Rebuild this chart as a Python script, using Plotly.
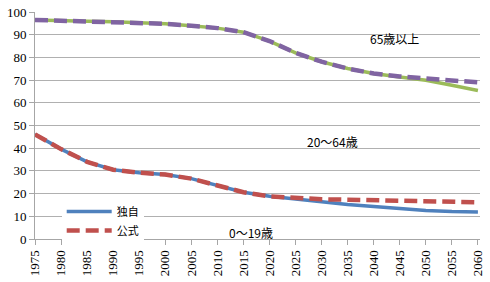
import plotly.graph_objects as go

years = [1975, 1980, 1985, 1990, 1995, 2000, 2005, 2010, 2015,
         2020, 2025, 2030, 2035, 2040, 2045, 2050, 2055, 2060]

# share 0-19 (boundary between 0-19 and 20-64)
young_own = [46.1, 39.6, 34.0, 30.5, 29.2, 28.4, 26.6, 23.6, 20.6,
             18.8, 17.6, 16.3, 15.2, 14.3, 13.4, 12.6, 12.1, 11.9]
young_official = [46.1, 39.6, 34.0, 30.5, 29.2, 28.4, 26.6, 23.6, 20.6,
                  18.8, 18.0, 17.5, 17.3, 17.1, 16.9, 16.7, 16.5, 16.2]
# share 0-64 (boundary between 20-64 and 65+)
upto64_own = [96.5, 96.1, 95.9, 95.7, 95.2, 94.8, 93.9, 92.9, 91.1,
              87.2, 82.0, 78.1, 75.1, 72.9, 71.4, 69.9, 67.7, 65.4]
upto64_official = [96.5, 96.1, 95.9, 95.7, 95.2, 94.8, 93.9, 92.9, 91.1,
                   87.2, 82.0, 78.1, 75.1, 72.9, 71.6, 70.6, 69.7, 69.0]

region_labels = ["65歳以上", "20～64歳", "0～19歳"]
legend_names = ["独自", "公式"]

SERIF = "Liberation Serif"
JP = "Noto Sans CJK JP"

fig = go.Figure()
fig.add_trace(go.Scatter(x=years, y=upto64_own, mode="lines", showlegend=False,
                         line=dict(color="#9BBB59", width=3.5)))
fig.add_trace(go.Scatter(x=years, y=upto64_official, mode="lines", showlegend=False,
                         line=dict(color="#8064A2", width=4.5, dash="13px,6px")))
fig.add_trace(go.Scatter(x=years, y=young_own, mode="lines", name=legend_names[0],
                         line=dict(color="#4F81BD", width=3.5)))
fig.add_trace(go.Scatter(x=years, y=young_official, mode="lines", name=legend_names[1],
                         line=dict(color="#C0504D", width=4.5, dash="13px,6px")))

ann_pos = [(2044, 88.5), (2032, 43), (2016.5, 3)]
for txt, (ax, ay) in zip(region_labels, ann_pos):
    fig.add_annotation(x=ax, y=ay, text=txt, showarrow=False,
                       font=dict(family=JP, size=12, color="#000"))

fig.update_layout(
    width=490, height=282,
    margin=dict(l=35, r=5, t=7, b=43),
    paper_bgcolor="white", plot_bgcolor="white",
    font=dict(family=SERIF, size=13, color="#000"),
    legend=dict(x=0.06, y=0.185, xanchor="left", yanchor="top",
                bgcolor="white", font=dict(family=JP, size=11),
                tracegroupgap=0, itemwidth=45),
    xaxis=dict(range=[1975, 2060.4], tickmode="array", tickvals=years,
               ticktext=[str(y) for y in years], tickangle=-90,
               ticklabeloverflow="allow",
               showline=True, linecolor="#a6a6a6", linewidth=1,
               ticks="outside", ticklen=5, tickcolor="#a6a6a6",
               showgrid=False, zeroline=False,
               tickfont=dict(family=SERIF, size=13)),
    yaxis=dict(range=[0, 100], dtick=10, ticklabeloverflow="allow",
               showline=True, linecolor="#a6a6a6", linewidth=1,
               ticks="outside", ticklen=5, tickcolor="#a6a6a6",
               showgrid=True, gridcolor="#b0b0b0", gridwidth=1, zeroline=False,
               tickfont=dict(family=SERIF, size=13)),
)

fig.write_html("out.html")
